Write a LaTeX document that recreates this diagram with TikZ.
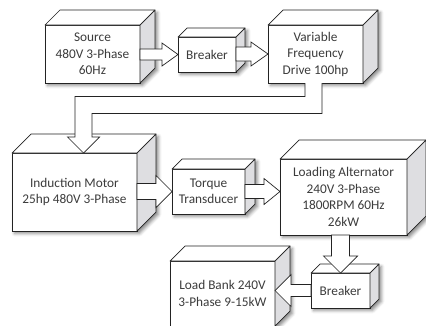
\documentclass[tikz,border=0pt]{standalone}
\usepackage{fontspec}
\setmainfont{Carlito}
\usetikzlibrary{calc,backgrounds,shadows.blur}

\definecolor{sidegray}{RGB}{222,222,225}
\definecolor{linecol}{RGB}{35,35,35}
\definecolor{textcol}{RGB}{60,60,60}

% top and side face of a box, node name and depth
\newcommand{\cubesides}[2]{%
  \begin{pgfonlayer}{background}
    \path[blur shadow={shadow xshift=2.5pt, shadow yshift=-2.5pt, shadow blur radius=3pt, shadow opacity=45}]
      (#1.south west) -- (#1.north west) -- ++(#2,-#2) -- ($(#1.north east)+(#2,-#2)$)
      -- ($(#1.south east)+(#2,-#2)$) -- (#1.south east) -- cycle;
  \end{pgfonlayer}
  \draw[face, fill=white] (#1.north west) -- ++(#2,-#2) -- ($(#1.north east)+(#2,-#2)$) -- (#1.north east) -- cycle;
  \draw[face, fill=sidegray] (#1.north east) -- ++(#2,-#2) -- ($(#1.south east)+(#2,-#2)$) -- (#1.south east) -- cycle;
}

% block arrow: tail, tip, half shaft, half head, head length
\newcommand{\fatarrow}[5]{%
  \coordinate (hb) at ($(#2)!#5!(#1)$);
  \draw[fat] ($(#1)!#3!90:(#2)$) -- ($(hb)!#3!90:(#2)$) -- ($(hb)!#4!90:(#2)$) -- (#2)
    -- ($(hb)!#4!-90:(#2)$) -- ($(hb)!#3!-90:(#2)$) -- ($(#1)!#3!-90:(#2)$) -- cycle;
}

\begin{document}
\begin{tikzpicture}[x=1pt, y=-1pt]

\tikzstyle{front}=[rectangle, draw=linecol, line width=0.7pt, fill=white, inner sep=0pt, outer sep=0pt, align=center, text=textcol, font=\fontsize{13.3}{16.5}\selectfont]
\tikzstyle{face}=[draw=linecol, line width=0.7pt, line join=round]
\tikzstyle{fat}=[draw=linecol, line width=0.7pt, fill=white, line join=miter]

\useasboundingbox (0,0) rectangle (426,325);
\clip (0,0) rectangle (426,325);

\node (src) [front, minimum width=95pt, minimum height=58pt] at (92.5,54) {Source\\480V 3-Phase\\60Hz};
\cubesides{src}{15}

\node (brk1) [front, minimum width=58pt, minimum height=35pt] at (207,54.5) {Breaker};
\cubesides{brk1}{9}

\node (vfd) [front, minimum width=95pt, minimum height=58pt] at (315.5,54) {Variable\\Frequency\\Drive 100hp};
\cubesides{vfd}{15}

\node (mot) [front, minimum width=125pt, minimum height=78pt] at (74.5,192) {Induction Motor\\25hp 480V 3-Phase};
\cubesides{mot}{19}

\node (trq) [front, minimum width=73pt, minimum height=45pt] at (208.5,191.5) {Torque\\Transducer};
\cubesides{trq}{10}

\node (alt) [front, minimum width=127pt, minimum height=76pt] at (343.5,197) {Loading Alternator\\240V 3-Phase\\1800RPM 60Hz\\26kW};
\cubesides{alt}{19}

\node (brk2) [front, minimum width=59pt, minimum height=35pt] at (340.5,290.5) {Breaker};
\cubesides{brk2}{9}

\node (lb) [front, minimum width=105pt, minimum height=65pt] at (222.5,293.5) {Load Bank 240V\\3-Phase 9-15kW};
\cubesides{lb}{15}

% arrows
\coordinate (t1) at (src.east |- brk1.west);
\fatarrow{t1}{brk1.west}{5.5pt}{11.5pt}{16pt}
\coordinate (t2) at (brk1.east |- vfd.west);
\fatarrow{t2}{vfd.west}{7pt}{12pt}{17pt}

\coordinate (vo) at ([xshift=-2pt]vfd.south);
\coordinate (mi) at ([xshift=9pt]mot.north);
\coordinate (mid) at (0,105);
\draw[fat] ($(vo)+(-8.5,0)$) -- ($(vo |- mid)+(-8.5,-8.5)$) -- ($(mi |- mid)+(-8.5,-8.5)$)
  -- ($(mi)+(-8.5,-16)$) -- ($(mi)+(-16,-16)$) -- (mi) -- ($(mi)+(16,-16)$) -- ($(mi)+(8.5,-16)$)
  -- ($(mi |- mid)+(8.5,8.5)$) -- ($(vo |- mid)+(8.5,8.5)$) -- ($(vo)+(8.5,0)$);

\coordinate (t3) at (mot.east |- trq.west);
\fatarrow{t3}{trq.west}{8pt}{16pt}{16pt}
\coordinate (h4) at (alt.west |- trq.east);
\fatarrow{trq.east}{h4}{7pt}{13pt}{16pt}
\coordinate (t5) at (brk2.north |- alt.south);
\fatarrow{t5}{brk2.north}{9pt}{17pt}{17pt}
\coordinate (h6) at (lb.east |- brk2.west);
\fatarrow{brk2.west}{h6}{6pt}{16pt}{16pt}

\end{tikzpicture}
\end{document}
